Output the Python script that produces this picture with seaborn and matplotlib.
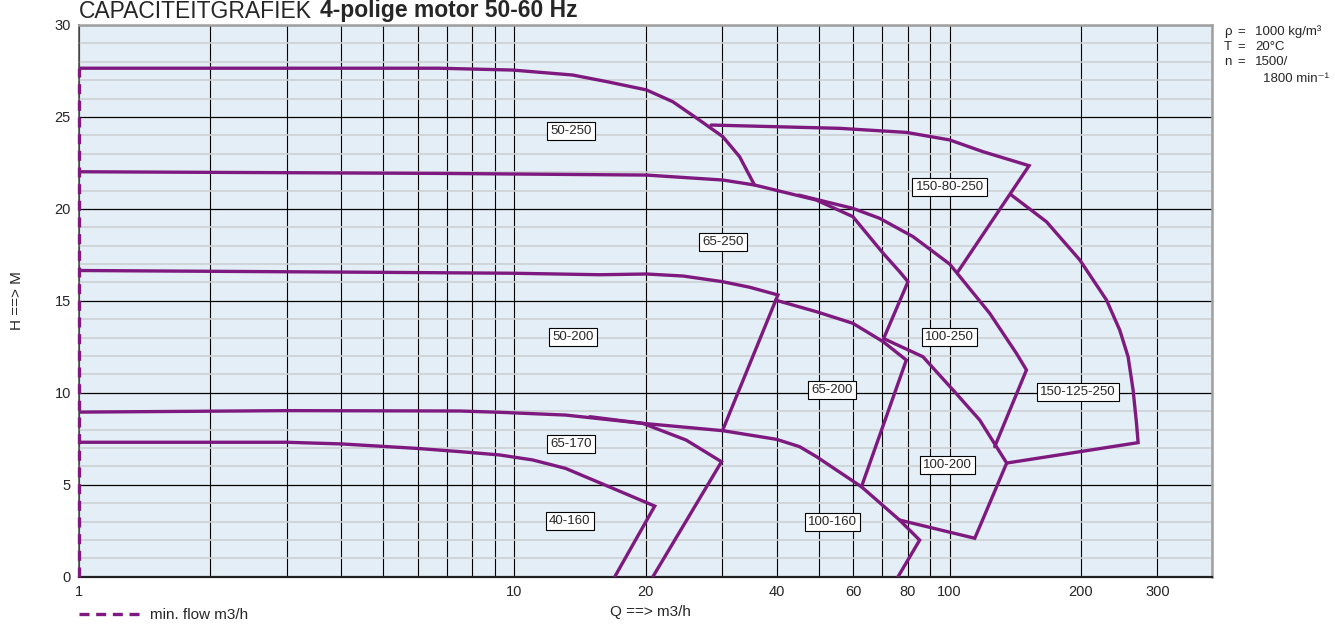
import matplotlib
matplotlib.use("Agg")
import matplotlib.pyplot as plt
import matplotlib.ticker as mticker
import seaborn as sns

q_50_250 = [1, 3, 6.7, 9.9, 13.6, 16.3, 20.1, 23.1, 26.6, 30.1, 32.9, 35.6]
h_50_250 = [27.65, 27.65, 27.65, 27.55, 27.28, 26.92, 26.47, 25.83, 24.83, 23.93, 22.84, 21.3]

q_65_250 = [1, 6.7, 20.1, 30.1, 35.6, 49.4, 59.9, 70.3, 76.7, 80.2, 70.5]
h_65_250 = [22.02, 21.93, 21.84, 21.57, 21.3, 20.48, 19.58, 17.59, 16.59, 16.04, 12.95]

q_100_250 = [45, 59.9, 69.0, 82.4, 100, 123.6, 142.3, 150.1, 126.9]
h_100_250 = [20.75, 20.03, 19.49, 18.49, 17.0, 14.32, 12.15, 11.24, 7.07]

q_150_80_250 = [28.3, 55.9, 79.5, 100, 119.3, 152.2, 104.5]
h_150_80_250 = [24.56, 24.38, 24.16, 23.75, 23.11, 22.35, 16.59]

q_150_125_250 = [138.5, 166.9, 199.1, 229.2, 245.9, 257, 263.9, 268.7, 271, 135.2]
h_150_125_250 = [20.76, 19.3, 17.22, 15.05, 13.41, 11.96, 10.15, 8.34, 7.29, 6.18]

q_100_200 = [70.5, 86.8, 101.8, 117.2, 135.2, 114.2, 76.7]
h_100_200 = [12.95, 11.96, 10.15, 8.52, 6.18, 2.09, 3.08]

q_50_200 = [1, 5, 10, 15.7, 20.1, 24.4, 30.1, 34.7, 40.3, 30.1]
h_50_200 = [16.65, 16.55, 16.5, 16.42, 16.46, 16.35, 16.04, 15.74, 15.32, 7.98]

q_65_200 = [39.8, 49.4, 59.9, 70.3, 79.5, 62.7]
h_65_200 = [15.04, 14.41, 13.78, 12.78, 11.78, 4.89]

q_65_170 = [1, 3, 7.5, 9.24, 13.1, 19.7, 24.8, 29.9, 20.8]
h_65_170 = [8.95, 9.03, 9.01, 8.94, 8.79, 8.34, 7.43, 6.25, 0]

q_100_160 = [14.9, 19.7, 30.1, 40.0, 45.2, 49.4, 62.7, 76.7, 85.3, 76.1]
h_100_160 = [8.70, 8.34, 7.94, 7.47, 7.07, 6.53, 4.89, 3.08, 1.99, 0]

q_40_160 = [1, 3, 4.0, 5.94, 7.5, 9.24, 11.0, 13.1, 16.5, 21.0, 17.0]
h_40_160 = [7.31, 7.31, 7.22, 6.98, 6.80, 6.62, 6.35, 5.89, 4.89, 3.84, 0]

q_min_flow = [1, 1]
h_min_flow = [0, 27.65]

# Typeaanduidingen en hun plaats in de grafiek
pump_names = ["50-250", "150-80-250", "65-250", "50-200", "100-250", "65-200",
              "150-125-250", "65-170", "100-200", "40-160", "100-160"]
name_q = [13.5, 100, 30.2, 13.6, 100, 53.6, 197, 13.5, 98.9, 13.4, 53.8]
name_h = [24.24, 21.19, 18.2, 13.04, 13.04, 10.15, 10.04, 7.22, 6.07, 3.03, 2.98]

x_ticks = [1, 10, 20, 30, 40, 60, 80, 100, 200, 300, 400]
x_tick_labels = ["1", "10", "20", "", "40", "60", "80", "100", "200", "300", ""]
x_minor = [2, 3, 4, 5, 6, 7, 8, 9, 50, 70, 90]
y_ticks = [0, 5, 10, 15, 20, 25, 30]

PURPLE = "#7e1a7f"

sns.set_style("white")
plt.rcParams["font.family"] = ["Liberation Sans", "DejaVu Sans"]

W, H = 1335, 630
fig = plt.figure(figsize=(W / 100, H / 100), dpi=100)
ax = fig.add_axes([79.3 / W, 1 - 576.7 / H, 1132.4 / W, 551.7 / H])
ax.set_facecolor("#e3eef6")

curves = [(q_50_250, h_50_250), (q_65_250, h_65_250), (q_100_250, h_100_250),
          (q_150_80_250, h_150_80_250), (q_150_125_250, h_150_125_250),
          (q_100_200, h_100_200), (q_50_200, h_50_200), (q_65_200, h_65_200),
          (q_65_170, h_65_170), (q_100_160, h_100_160), (q_40_160, h_40_160)]
for q, h in curves:
    sns.lineplot(x=q, y=h, sort=False, estimator=None, color=PURPLE, lw=2.4,
                 solid_joinstyle="miter", ax=ax, zorder=3)

# min. flow lijn
sns.lineplot(x=q_min_flow, y=h_min_flow, sort=False, estimator=None, color=PURPLE,
             lw=2.4, linestyle=(0, (3, 2)), clip_on=False, ax=ax, zorder=3,
             label="min. flow m3/h")

ax.set_xscale("log")
ax.set_xlim(1, 400)
ax.set_ylim(0, 30)

ax.xaxis.set_major_locator(mticker.FixedLocator(x_ticks))
ax.xaxis.set_major_formatter(mticker.FixedFormatter(x_tick_labels))
ax.xaxis.set_minor_locator(mticker.FixedLocator(x_minor))
ax.xaxis.set_minor_formatter(mticker.NullFormatter())
ax.yaxis.set_major_locator(mticker.FixedLocator(y_ticks))
ax.yaxis.set_minor_locator(mticker.MultipleLocator(1))

ax.tick_params(which="major", direction="out", length=4, width=1, color="black",
               labelsize=10.5, pad=2)
ax.tick_params(which="minor", length=0)

ax.set_axisbelow(True)
ax.grid(axis="x", which="both", color="black", lw=0.8)
ax.grid(axis="y", which="minor", color="#cdd1d5", lw=1.2)
ax.grid(axis="y", which="major", color="black", lw=0.9)

for side in ["top", "right"]:
    ax.spines[side].set_color("#a0a0a0")
    ax.spines[side].set_linewidth(1.8)
ax.spines["left"].set_color("#555555")
ax.spines["left"].set_linewidth(1.2)
ax.spines["bottom"].set_color("#222222")
ax.spines["bottom"].set_linewidth(1.6)

for name, q, h in zip(pump_names, name_q, name_h):
    ax.text(q, h, name, ha="center", va="center", fontsize=9.5, zorder=5,
            bbox=dict(boxstyle="square,pad=0.25", fc="white", ec="black", lw=0.8))

ax.set_xlabel("Q ==> m3/h", fontsize=11)
ax.xaxis.set_label_coords((650 - 79.3) / 1132.4, -(605 - 576.7) / 551.7)
ax.set_ylabel("H ==> M", fontsize=11)
ax.yaxis.set_label_coords((24 - 79.3) / 1132.4, 0.5)

ax.legend(loc="center left", bbox_to_anchor=(79.3 / W, 1 - 615 / H),
          bbox_transform=fig.transFigure, frameon=False, borderpad=0,
          borderaxespad=0, handlelength=3.9, handletextpad=0.7, fontsize=11)

# Titel
fig.text(79.3 / W, 1 - 17.5 / H, "CAPACITEITGRAFIEK", fontsize=16.5, va="baseline")
fig.text(320 / W, 1 - 17.5 / H, "4-polige motor 50-60 Hz", fontsize=16.5,
         fontweight="bold", va="baseline")

# Condities rechtsboven
info_rows = [("ρ", "1000 kg/m³", 31.7), ("T", "20°C", 46.7), ("n", "1500/", 61.7)]
for sym, val, y in info_rows:
    fig.text(1224 / W, 1 - y / H, sym, fontsize=9.5, va="center")
    fig.text(1237 / W, 1 - y / H, "=", fontsize=9.5, va="center")
    fig.text(1255 / W, 1 - y / H, val, fontsize=9.5, va="center")
fig.text(1263 / W, 1 - 79.3 / H, "1800 min⁻¹", fontsize=9.5, va="center")

fig.savefig("out.png", dpi=100)
